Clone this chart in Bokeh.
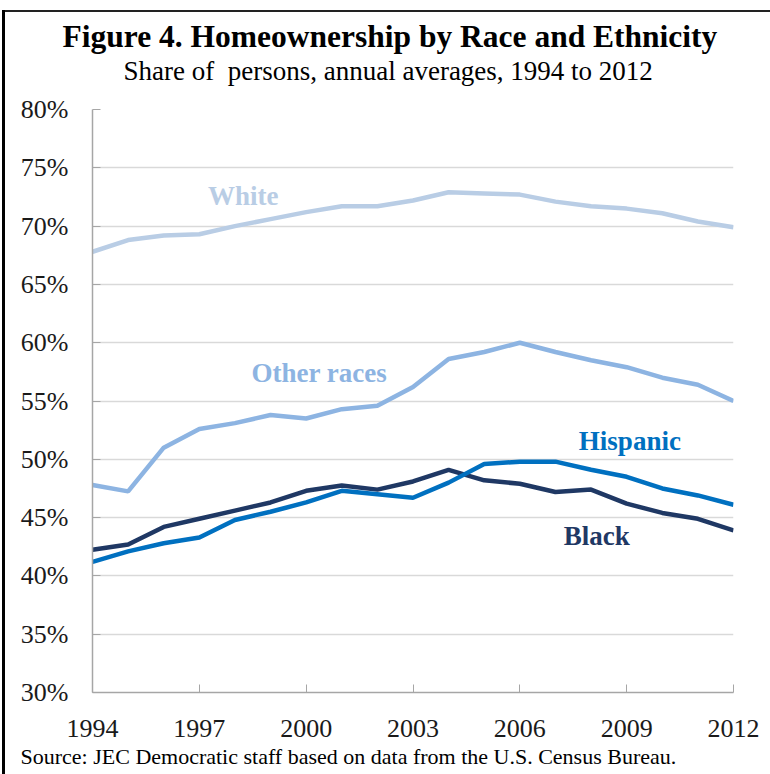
from bokeh.plotting import figure
from bokeh.models import Title, FixedTicker, PrintfTickFormatter, ColumnDataSource, Label
from bokeh.embed import file_html
from bokeh.resources import INLINE

years = list(range(1994, 2013))
white = [67.8, 68.8, 69.2, 69.3, 70.0, 70.6, 71.2, 71.7, 71.7, 72.2, 72.9, 72.8, 72.7, 72.1, 71.7, 71.5, 71.1, 70.4, 69.9]
other = [47.8, 47.25, 51.0, 52.6, 53.1, 53.8, 53.5, 54.3, 54.6, 56.2, 58.6, 59.2, 60.0, 59.2, 58.5, 57.9, 57.0, 56.4, 55.0]
black = [42.25, 42.7, 44.2, 44.9, 45.6, 46.3, 47.3, 47.75, 47.4, 48.1, 49.1, 48.2, 47.9, 47.2, 47.4, 46.2, 45.4, 44.9, 43.9]
hispanic = [41.2, 42.1, 42.8, 43.3, 44.8, 45.5, 46.3, 47.3, 47.0, 46.7, 48.0, 49.6, 49.8, 49.8, 49.1, 48.5, 47.5, 46.9, 46.1]

x_ticks = [1994, 1997, 2000, 2003, 2006, 2009, 2012]
y_ticks = [30, 35, 40, 45, 50, 55, 60, 65, 70, 75, 80]

series = [
    ("White", white, "#b9cde5"),
    ("Other races", other, "#8db4e2"),
    ("Black", black, "#1f3864"),
    ("Hispanic", hispanic, "#0070c0"),
]
label_pos = {
    "White": (1998.23, 72.54),
    "Other races": (2000.37, 57.36),
    "Hispanic": (2009.09, 51.53),
    "Black": (2008.16, 43.38),
}

SERIF = "Liberation Serif"

frame_bg = ("linear-gradient(#000000, #000000) 2px 10px / 3px calc(100% - 10px) no-repeat, "
            "linear-gradient(#222222, #222222) 2px 10px / calc(100% - 2px) 2px no-repeat, #ffffff")

p = figure(width=770, height=774, output_backend="svg", toolbar_location=None,
           x_range=(1994, 2012), y_range=(30, 80),
           min_border_left=92, min_border_right=37, min_border_top=109, min_border_bottom=82,
           styles={"background": frame_bg})
p.outline_line_color = None
p.background_fill_color = "white"
p.border_fill_color = None

for name, vals, col in series:
    src = ColumnDataSource(dict(x=years, y=vals))
    p.line("x", "y", source=src, line_color=col, line_width=4.5)

for name, vals, col in series:
    lx, ly = label_pos[name]
    p.add_layout(Label(x=lx, y=ly, text=name, text_color=col, text_font=SERIF,
                       text_font_style="bold", text_font_size="27px",
                       text_align="center", text_baseline="middle"))

p.xgrid.grid_line_color = None
p.ygrid.grid_line_color = "#d9d9d9"
p.ygrid.grid_line_width = 1.5
p.ygrid.ticker = FixedTicker(ticks=y_ticks)

p.xaxis.ticker = FixedTicker(ticks=x_ticks)
p.yaxis.ticker = FixedTicker(ticks=y_ticks)
p.yaxis.formatter = PrintfTickFormatter(format="%d%%")
for ax in (p.xaxis[0], p.yaxis[0]):
    ax.axis_line_color = "#a6a6a6"
    ax.axis_line_width = 1.5
    ax.major_tick_line_color = "#a6a6a6"
    ax.major_tick_in = 8
    ax.major_tick_out = 0
    ax.minor_tick_line_color = None
    ax.major_label_text_font = SERIF
    ax.major_label_text_font_size = "26px"
    ax.major_label_text_color = "#1a1a1a"
p.yaxis.major_label_standoff = 24
p.xaxis.major_label_standoff = 27

# subtitle (closest to the frame), then main title above it
p.add_layout(Title(text="Share of\u00a0 persons, annual averages, 1994 to 2012",
                   text_font=SERIF, text_font_size="27px", text_font_style="normal",
                   align="left", offset=31, standoff=48, text_color="black"), "above")
p.add_layout(Title(text="Figure 4. Homeownership by Race and Ethnicity",
                   text_font=SERIF, text_font_size="31.5px", text_font_style="bold",
                   align="left", offset=-30, standoff=-49, text_color="black"), "above")
p.add_layout(Title(text="Source: JEC Democratic staff based on data from the U.S. Census Bureau.",
                   text_font=SERIF, text_font_size="22px", text_font_style="normal",
                   align="left", offset=-72, standoff=5, text_color="black"), "below")

open("out.html", "w").write(file_html(p, INLINE))
